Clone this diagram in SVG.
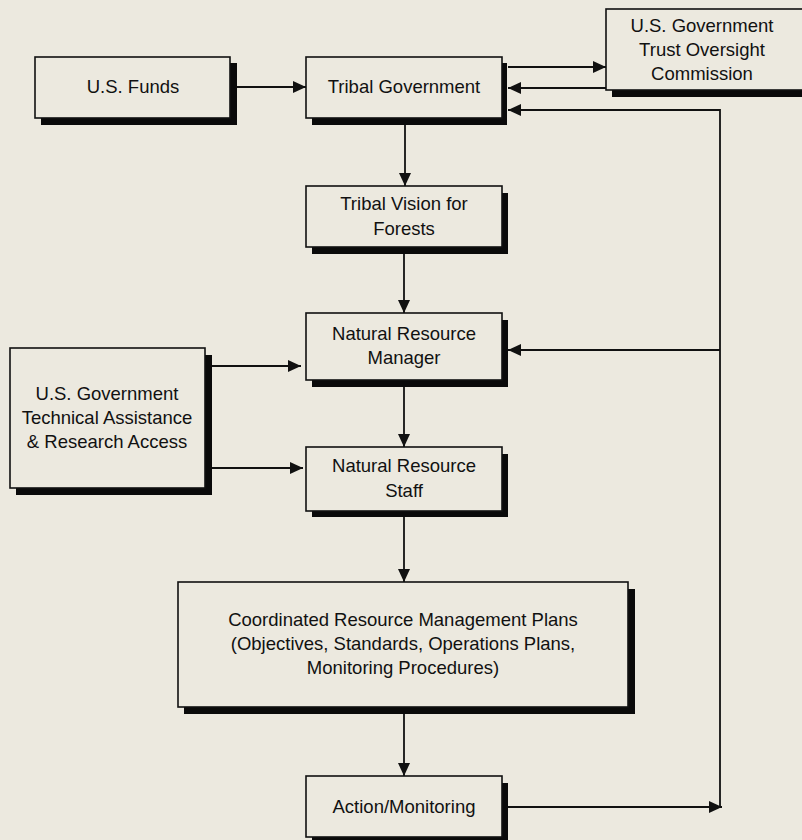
<svg xmlns="http://www.w3.org/2000/svg" width="802" height="840" viewBox="0 0 802 840">
<style>
.bg{fill:#ece9df}
.box{fill:#ece9df;stroke:#111;stroke-width:1.6}
.sh{fill:#0a0a0a}
text{font-family:"Liberation Sans",Arial,sans-serif;font-size:18.5px;fill:#111;text-anchor:middle}
.ln{fill:none;stroke:#111;stroke-width:1.8}
</style>
<defs>
<marker id="ah" markerUnits="userSpaceOnUse" markerWidth="14" markerHeight="12" refX="13" refY="6" orient="auto">
<path d="M0,0 L13,6 L0,12 Z" fill="#111"/>
</marker>
</defs>
<rect class="bg" x="0" y="0" width="802" height="840"/>

<g id="connectors">
<line class="ln" x1="237" y1="87" x2="306" y2="87" marker-end="url(#ah)"/>
<line class="ln" x1="508" y1="67" x2="606" y2="67" marker-end="url(#ah)"/>
<line class="ln" x1="606" y1="88" x2="508" y2="88" marker-end="url(#ah)"/>
<polyline class="ln" points="508,807 722,807" marker-end="url(#ah)"/>
<polyline class="ln" points="720,807 720,110 508,110" marker-end="url(#ah)"/>
<line class="ln" x1="720" y1="350" x2="508" y2="350" marker-end="url(#ah)"/>
<line class="ln" x1="405" y1="125" x2="405" y2="186" marker-end="url(#ah)"/>
<line class="ln" x1="404" y1="254" x2="404" y2="313" marker-end="url(#ah)"/>
<line class="ln" x1="404" y1="387" x2="404" y2="447" marker-end="url(#ah)"/>
<line class="ln" x1="404" y1="517" x2="404" y2="582" marker-end="url(#ah)"/>
<line class="ln" x1="404" y1="714" x2="404" y2="776" marker-end="url(#ah)"/>
<line class="ln" x1="212" y1="366" x2="301" y2="366" marker-end="url(#ah)"/>
<line class="ln" x1="212" y1="468" x2="303" y2="468" marker-end="url(#ah)"/>
</g>

<g id="us-funds">
<rect class="sh" x="41" y="63" width="196" height="62"/>
<rect class="box" x="35" y="57" width="195" height="61"/>
<text x="133" y="93">U.S. Funds</text>
</g>

<g id="tribal-government">
<rect class="sh" x="312" y="63" width="195" height="62"/>
<rect class="box" x="306" y="57" width="196" height="61"/>
<text x="404" y="93">Tribal Government</text>
</g>

<g id="trust-oversight">
<rect class="sh" x="612" y="16" width="200" height="81"/>
<rect class="box" x="606" y="9" width="200" height="81"/>
<text x="702" y="31.5">U.S. Government</text>
<text x="702" y="56">Trust Oversight</text>
<text x="702" y="80">Commission</text>
</g>

<g id="tribal-vision">
<rect class="sh" x="312" y="193" width="196" height="61"/>
<rect class="box" x="306" y="186" width="196" height="61"/>
<text x="404" y="210">Tribal Vision for</text>
<text x="404" y="235">Forests</text>
</g>

<g id="nr-manager">
<rect class="sh" x="312" y="320" width="196" height="67"/>
<rect class="box" x="306" y="313" width="196" height="67"/>
<text x="404" y="340">Natural Resource</text>
<text x="404" y="364">Manager</text>
</g>

<g id="us-tech-assistance">
<rect class="sh" x="16" y="355" width="196" height="140"/>
<rect class="box" x="10" y="348" width="195" height="140"/>
<text x="107" y="400">U.S. Government</text>
<text x="107" y="424">Technical Assistance</text>
<text x="107" y="448">&amp; Research Access</text>
</g>

<g id="nr-staff">
<rect class="sh" x="312" y="454" width="196" height="63"/>
<rect class="box" x="306" y="447" width="196" height="64"/>
<text x="404" y="472">Natural Resource</text>
<text x="404" y="497">Staff</text>
</g>

<g id="coordinated-plans">
<rect class="sh" x="184" y="589" width="451" height="125"/>
<rect class="box" x="178" y="582" width="450" height="125"/>
<text x="403" y="626">Coordinated Resource Management Plans</text>
<text x="403" y="650">(Objectives, Standards, Operations Plans,</text>
<text x="403" y="674">Monitoring Procedures)</text>
</g>

<g id="action-monitoring">
<rect class="sh" x="312" y="783" width="196" height="61"/>
<rect class="box" x="306" y="776" width="196" height="61"/>
<text x="404" y="813">Action/Monitoring</text>
</g>
</svg>
